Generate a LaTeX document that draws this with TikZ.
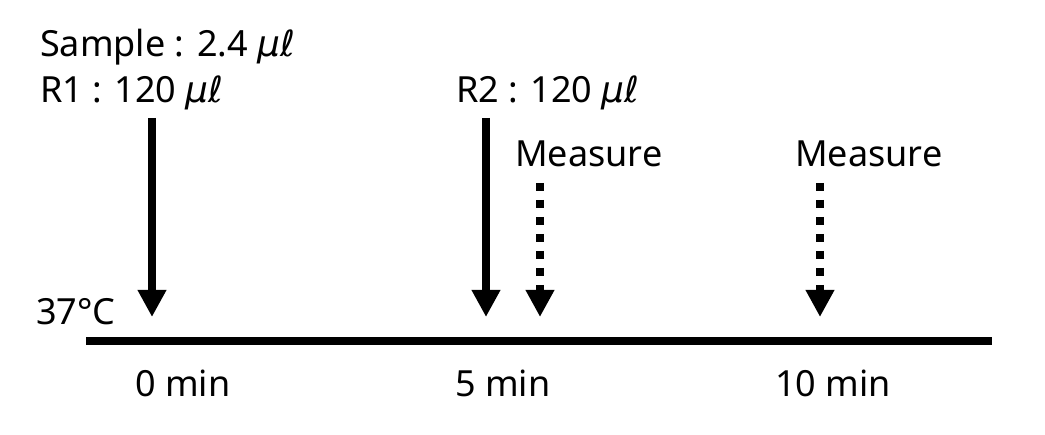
\documentclass[tikz,border=0pt]{standalone}
\usepackage{fontspec}
\setmainfont{Noto Sans}
\newfontfamily\unitfont{DejaVu Sans}
\usetikzlibrary{arrows.meta}
\newcommand{\microl}{{\unitfont\itshape μℓ}}

\begin{document}
\begin{tikzpicture}[x=1pt,y=-1pt,
  lbl/.style={anchor=base west,inner sep=0pt,font=\fontsize{36}{42}\selectfont},
  addarrow/.style={line width=8pt,-{Triangle[length=27pt,width=27pt]}},
  measarrow/.style={addarrow,dash pattern=on 8pt off 9pt}]
  \useasboundingbox (0,0) rectangle (1045,435);
  % labels
  \node[lbl] (sample) at (40,57) {Sample : 2.4 \microl};
  \node[lbl] (rone) at (40,103) {R1 : 120 \microl};
  \node[lbl] (rtwo) at (456,103) {R2 : 120 \microl};
  \node[lbl] (measA) at (515,167) {Measure};
  \node[lbl] (measB) at (795,167) {Measure};
  \node[lbl] (temp) at (36,325) {37°C};
  \node[lbl] (tzero) at (135,397) {0 min};
  \node[lbl] (tfive) at (455,397) {5 min};
  \node[lbl] (tten) at (775,397) {10 min};
  % arrow ends
  \coordinate (aone) at (152,118);
  \coordinate (aonetip) at (152,317);
  \coordinate (atwo) at (486,118);
  \coordinate (atwotip) at (486,317);
  \coordinate (mone) at (540,183);
  \coordinate (monetip) at (540,317);
  \coordinate (mtwo) at (820,183);
  \coordinate (mtwotip) at (820,317);
  \coordinate (start) at (86,341);
  \coordinate (end) at (992,341);
  % time line
  \draw[line width=8pt] (start) -- (end);
  \draw[addarrow] (aone) -- (aonetip);
  \draw[addarrow] (atwo) -- (atwotip);
  \draw[measarrow] (mone) -- (monetip);
  \draw[measarrow] (mtwo) -- (mtwotip);
\end{tikzpicture}
\end{document}
